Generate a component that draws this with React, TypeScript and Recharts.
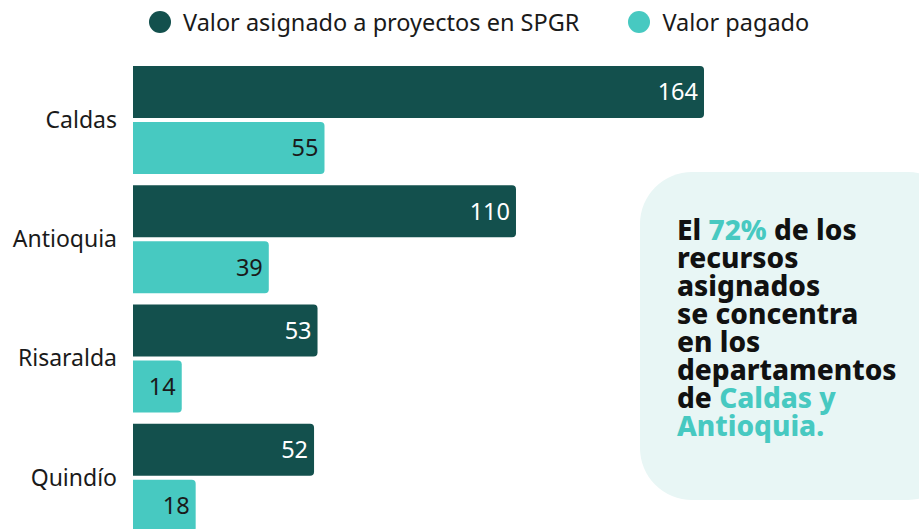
import { Bar, BarChart, LabelList, XAxis, YAxis } from 'recharts'

const DEPARTAMENTOS = ['Caldas', 'Antioquia', 'Risaralda', 'Quindío']
const ASIGNADO = [164, 110, 53, 52]
const PAGADO = [55, 39, 14, 18]

const SERIES = [
  { key: 'asignado', name: 'Valor asignado a proyectos en SPGR', color: '#13504D' },
  { key: 'pagado', name: 'Valor pagado', color: '#47C9C1' },
]

const data = DEPARTAMENTOS.map((d, i) => ({ name: d, asignado: ASIGNADO[i], pagado: PAGADO[i] }))

const FONT = '"Noto Sans", sans-serif'

function Legend() {
  return (
    <div
      style={{
        position: 'absolute',
        top: 6,
        left: 149,
        display: 'flex',
        alignItems: 'center',
        fontFamily: FONT,
        fontSize: 23.5,
        color: '#1a1a1a',
      }}
    >
      {SERIES.map((s, i) => (
        <div key={s.key} style={{ display: 'flex', alignItems: 'center', marginRight: i === 0 ? 49 : 0 }}>
          <span
            style={{
              width: 22,
              height: 22,
              borderRadius: '50%',
              background: s.color,
              display: 'inline-block',
              marginRight: 12,
            }}
          />
          <span>{s.name}</span>
        </div>
      ))}
    </div>
  )
}

function Callout() {
  const teal = '#47C9C1'
  return (
    <div
      style={{
        position: 'absolute',
        left: 640,
        top: 172,
        width: 320,
        height: 328,
        background: '#E8F6F5',
        borderRadius: 52,
        boxSizing: 'border-box',
        padding: '43px 0 0 37px',
        fontFamily: FONT,
        fontWeight: 800,
        fontSize: 28,
        lineHeight: '28px',
        color: '#111',
      }}
    >
      El <span style={{ color: teal }}>72%</span> de los
      <br />
      recursos
      <br />
      asignados
      <br />
      se concentra
      <br />
      en los
      <br />
      departamentos
      <br />
      de <span style={{ color: teal }}>Caldas y</span>
      <br />
      <span style={{ color: teal }}>Antioquia.</span>
    </div>
  )
}

export default function App() {
  return (
    <div style={{ position: 'absolute', left: 0, top: 0, width: 919, height: 529, overflow: 'hidden', background: '#fff' }}>
      <BarChart
        width={919}
        height={545}
        data={data}
        layout="vertical"
        margin={{ top: 60, right: 215, bottom: 8, left: 0 }}
        barSize={52}
        barGap={4}
      >
        <XAxis type="number" domain={[0, 164]} hide />
        <YAxis
          type="category"
          dataKey="name"
          width={133}
          axisLine={false}
          tickLine={false}
          tickMargin={10}
          tick={{ fill: '#1a1a1a', fontSize: 23, fontFamily: FONT }}
        />
        <Bar dataKey="asignado" fill={SERIES[0].color} radius={[0, 4, 4, 0]} isAnimationActive={false}>
          <LabelList dataKey="asignado" position="insideRight" offset={6} fill="#ffffff" fontSize={23.5} fontFamily={FONT} />
        </Bar>
        <Bar dataKey="pagado" fill={SERIES[1].color} radius={[0, 4, 4, 0]} isAnimationActive={false}>
          <LabelList dataKey="pagado" position="insideRight" offset={6} fill="#1a1a1a" fontSize={23.5} fontFamily={FONT} />
        </Bar>
      </BarChart>
      <Legend />
      <Callout />
    </div>
  )
}
